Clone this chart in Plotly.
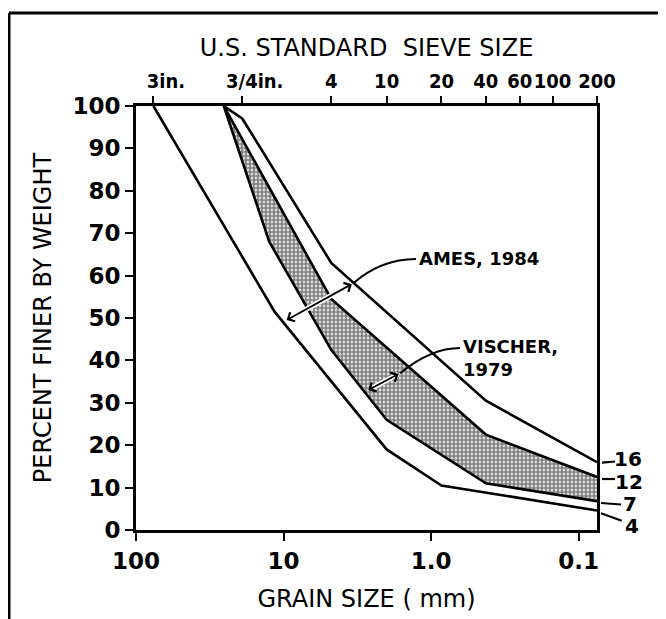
import math
import plotly.graph_objects as go

# ---------------- data ----------------
# Grain size (mm) and percent finer for the four envelope curves
size16 = [25.4, 19.0, 4.75, 0.425, 0.075]
pct16 = [100, 97, 63, 30.5, 16]
size12 = [25.4, 4.75, 0.425, 0.075]
pct12 = [100, 54.5, 22.5, 12.5]
size7 = [25.4, 12.5, 4.75, 2.0, 0.425, 0.075]
pct7 = [100, 68, 42.5, 26, 11, 6.8]
size4 = [76.2, 11.5, 2.0, 0.85, 0.075]
pct4 = [100, 51.5, 19, 10.5, 4.6]

bottom_tickvals = [100, 10, 1.0, 0.1]
bottom_ticktext = ["100", "10", "1.0", "0.1"]
sieve_mm = [76.2, 19.05, 4.75, 2.0, 0.85, 0.425, 0.25, 0.15, 0.075]
sieve_text = ["\u00a0\u00a0\u00a0\u00a03in.", "\u00a0\u00a0\u00a0\u00a03/4in.", "4", "10", "20", "40", "60", "100", "200"]
y_tickvals = list(range(0, 101, 10))
end_labels = ["16", "12", "7", "4"]

X_MAX, X_MIN = 100, 0.075

# ---------------- layout geometry ----------------
PAGE_OFF = 8           # the page body adds an 8 px offset
W, H = 666 - PAGE_OFF, 619 - PAGE_OFF
L, R, T, B = 136, 597, 106, 530   # plot area in window pixels


def px(x):
    return (x - L) / (R - L)


def py(y):
    return (B - y) / (B - T)


xrange_ = [math.log10(X_MAX), math.log10(X_MIN)]

fig = go.Figure()

# shaded Vischer (1979) band between curves 12 and 7
fig.add_trace(go.Scatter(
    x=size12 + size7[::-1], y=pct12 + pct7[::-1],
    fill="toself", mode="none",
    fillpattern=dict(shape=".", size=4, solidity=0.72, fgcolor="black", bgcolor="white"),
    fillcolor="black", hoverinfo="skip", showlegend=False))

for s, p in [(size16, pct16), (size12, pct12), (size7, pct7), (size4, pct4)]:
    fig.add_trace(go.Scatter(x=s, y=p, mode="lines",
                             line=dict(color="black", width=2.6),
                             hoverinfo="skip", showlegend=False))

# invisible trace to anchor the top sieve axis
fig.add_trace(go.Scatter(x=sieve_mm, y=[0] * len(sieve_mm), xaxis="x2", mode="markers",
                         marker=dict(opacity=0), hoverinfo="skip", showlegend=False))

tickfont = dict(family="DejaVu Sans", size=23, color="black", weight="bold")
titlefont = dict(family="DejaVu Sans", size=24, color="black")

fig.update_layout(
    width=W, height=H,
    margin=dict(l=L - PAGE_OFF, r=W - (R - PAGE_OFF), t=T - PAGE_OFF, b=H - (B - PAGE_OFF),
                autoexpand=False),
    paper_bgcolor="white", plot_bgcolor="white",
    xaxis=dict(type="log", range=xrange_, tickvals=bottom_tickvals, ticktext=bottom_ticktext,
               ticks="outside", ticklen=8, tickwidth=2, tickcolor="black", tickangle=0,
               showline=True, linewidth=3, linecolor="black", showgrid=False, zeroline=False,
               tickfont=tickfont, automargin=False,
               title=dict(text="GRAIN SIZE ( mm)", font=titlefont, standoff=18)),
    xaxis2=dict(type="log", range=xrange_, overlaying="x", side="top", anchor="y",
                tickvals=sieve_mm, ticktext=sieve_text, tickangle=0,
                ticks="outside", ticklen=7, tickwidth=2, tickcolor="black",
                showline=True, linewidth=3, linecolor="black", showgrid=False, zeroline=False,
                tickfont=dict(family="DejaVu Sans Condensed", size=20, color="black", weight="bold"),
                automargin=False,
                title=dict(text="U.S. STANDARD  SIEVE SIZE", font=titlefont, standoff=6)),
    yaxis=dict(range=[0, 100], tickvals=y_tickvals, ticks="outside", ticklen=8, tickwidth=2,
               tickcolor="black", showline=True, linewidth=3, linecolor="black", mirror=True,
               showgrid=False, zeroline=False, tickfont=tickfont, automargin=False,
               title=dict(text="PERCENT FINER BY WEIGHT", font=titlefont, standoff=14)),
)

shapes = []
# outer frame (left and top)
shapes.append(dict(type="line", xref="paper", yref="paper", x0=px(9), y0=py(625), x1=px(9), y1=py(13),
                   line=dict(color="black", width=3)))
shapes.append(dict(type="line", xref="paper", yref="paper", x0=px(9), y0=py(13), x1=px(662), y1=py(13),
                   line=dict(color="black", width=3)))
# white breaks in the band where the arrows cross
shapes.append(dict(type="line", xref="paper", yref="paper", x0=px(305), y0=py(310), x1=px(334), y1=py(294),
                   line=dict(color="white", width=5), layer="above"))
shapes.append(dict(type="line", xref="paper", yref="paper", x0=px(373), y0=py(387.5), x1=px(398), y1=py(374.4),
                   line=dict(color="white", width=5), layer="above"))
# leader curves to the labels
shapes.append(dict(type="path", xref="paper", yref="paper",
                   path=f"M {px(353.3)},{py(283.3)} Q {px(381)},{py(259)} {px(416)},{py(259)}",
                   line=dict(color="black", width=2)))
shapes.append(dict(type="path", xref="paper", yref="paper",
                   path=f"M {px(400)},{py(373.3)} Q {px(431)},{py(348)} {px(460)},{py(348)}",
                   line=dict(color="black", width=2)))
# small leader ticks for end labels
for (x0, y0, x1, y1) in [(602, 462.7, 615, 461.5), (602, 479, 615, 479), (601, 503, 621, 504.5),
                         (601, 513.3, 621.7, 520.7)]:
    shapes.append(dict(type="line", xref="paper", yref="paper", x0=px(x0), y0=py(y0), x1=px(x1), y1=py(y1),
                       line=dict(color="black", width=2.2)))
fig.update_layout(shapes=shapes)

ann = []
# double-headed arrows
for (hx, hy, tx, ty) in [(286.7, 320, 353.3, 283.3), (368.3, 390, 400, 373.3)]:
    ann.append(dict(xref="paper", yref="paper", x=px(hx), y=py(hy), ax=tx - hx, ay=ty - hy,
                    text="", showarrow=True, arrowside="end+start", arrowhead=4, arrowsize=1.1,
                    arrowwidth=1.8, arrowcolor="black", standoff=0, startstandoff=0))
lab_font = dict(family="DejaVu Sans", size=18, color="black", weight="bold")
ann.append(dict(xref="paper", yref="paper", x=px(417), y=py(259), text="AMES, 1984", showarrow=False,
                xanchor="left", yanchor="middle", font=lab_font))
ann.append(dict(xref="paper", yref="paper", x=px(461), y=py(358), text="VISCHER,<br>1979", showarrow=False,
                xanchor="left", yanchor="middle", align="left", font=lab_font))
end_font = dict(family="DejaVu Sans", size=20, color="black", weight="bold")
for lab, (lx, ly) in zip(end_labels, [(613, 459), (614, 482), (622, 504), (624, 526)]):
    ann.append(dict(xref="paper", yref="paper", x=px(lx), y=py(ly), text=lab, showarrow=False,
                    xanchor="left", yanchor="middle", font=end_font, borderpad=0))
fig.update_layout(annotations=ann)

fig.write_html("out.html")
